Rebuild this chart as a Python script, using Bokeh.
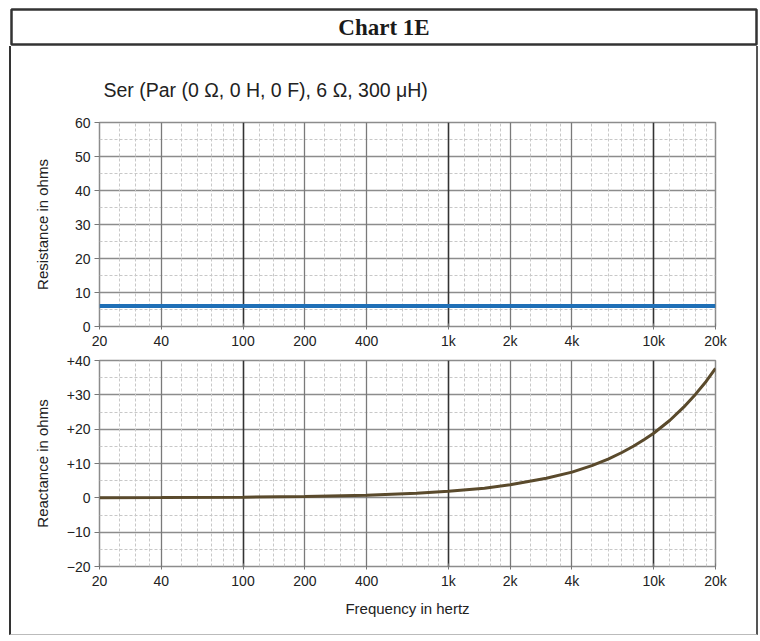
from bokeh.plotting import figure
from bokeh.models import Range1d, FixedTicker, Grid, CustomJSTickFormatter, Label
from bokeh.layouts import column
from bokeh.embed import file_html
from bokeh.resources import INLINE

# ---------------- data ----------------
header_text = "Chart 1E"
subtitle = "Ser (Par (0 \u03a9, 0 H, 0 F), 6 \u03a9, 300 \u03bcH)"

x_ticks = [20, 40, 100, 200, 400, 1000, 2000, 4000, 10000, 20000]
x_decades = [100, 1000, 10000]
x_octaves = [40, 200, 400, 2000, 4000]
x_minor = [25, 30, 35, 50, 60, 70, 80, 90, 120, 140, 160, 180, 250, 300, 350,
           500, 600, 700, 800, 900, 1200, 1400, 1600, 1800, 2500, 3000, 3500,
           5000, 6000, 7000, 8000, 9000, 12000, 14000, 16000, 18000]

r_ticks = [0, 10, 20, 30, 40, 50, 60]
r_minor = [5, 15, 25, 35, 45, 55]
x_ticks_b = [-20, -10, 0, 10, 20, 30, 40]
x_minor_b = [-15, -5, 5, 15, 25, 35]

freq_r = [20, 40, 100, 200, 400, 1000, 2000, 4000, 10000, 20000]
resistance = [6.0, 6.0, 6.0, 6.0, 6.0, 6.0, 6.0, 6.0, 6.0, 6.0]

freq_x = [20, 40, 100, 200, 400, 700, 1000, 1500, 2000, 3000, 4000, 5000, 6000,
          7000, 8000, 9000, 10000, 12000, 14000, 16000, 18000, 20000]
reactance = [0.04, 0.08, 0.19, 0.38, 0.75, 1.3, 1.9, 2.8, 3.8, 5.7, 7.5, 9.4, 11.3,
             13.2, 15.1, 17.0, 18.8, 22.6, 26.4, 30.2, 33.9, 37.7]

FONT = "Liberation Sans"
TXT = "#222222"

# ---------------- header ----------------
hdr = figure(width=749, height=39, x_range=Range1d(0, 1), y_range=Range1d(0, 1),
             toolbar_location=None, output_backend="svg",
             x_axis_location=None, y_axis_location=None,
             min_border_left=2, min_border_right=2, min_border_top=2, min_border_bottom=2)
hdr.grid.visible = False
hdr.outline_line_color = "#333333"
hdr.outline_line_width = 2.5
hdr.add_layout(Label(x=0.5, y=0.5, text=header_text, text_align="center",
                     text_baseline="middle", text_font="Liberation Serif",
                     text_font_style="bold", text_font_size="23px", text_color="#1a1a1a"))


def style_panel(p, yticks, yminor, ylabel, yformatter=None):
    p.outline_line_color = "#8c8c8c"
    p.outline_line_width = 1.5
    p.background_fill_color = "white"
    # x axis
    xt = FixedTicker(ticks=x_ticks, minor_ticks=[])
    p.xaxis.ticker = xt
    p.xaxis.formatter = CustomJSTickFormatter(
        code="return tick >= 1000 ? (tick/1000) + 'k' : String(tick);")
    p.xaxis.axis_line_color = None
    p.xaxis.major_tick_in = 3
    p.xaxis.major_tick_out = 3
    p.xaxis.major_tick_line_color = "#777777"
    p.xaxis.minor_tick_line_color = None
    p.xaxis.major_label_standoff = 3
    p.xaxis.major_label_text_font = FONT
    p.xaxis.major_label_text_font_size = "14px"
    p.xaxis.major_label_text_color = TXT
    # y axis
    yt = FixedTicker(ticks=yticks, minor_ticks=yminor)
    p.yaxis.ticker = yt
    if yformatter is not None:
        p.yaxis.formatter = yformatter
    p.yaxis.axis_line_color = None
    p.yaxis.major_tick_in = 0
    p.yaxis.major_tick_out = 5
    p.yaxis.major_tick_line_color = "#777777"
    p.yaxis.minor_tick_line_color = None
    p.yaxis.major_label_standoff = 4
    p.yaxis.major_label_text_font = FONT
    p.yaxis.major_label_text_font_size = "14px"
    p.yaxis.major_label_text_color = TXT
    p.yaxis.axis_label = ylabel
    p.yaxis.axis_label_text_font = FONT
    p.yaxis.axis_label_text_font_style = "normal"
    p.yaxis.axis_label_text_font_size = "15px"
    p.yaxis.axis_label_text_color = TXT
    # grids
    p.xgrid.visible = False
    p.ygrid.ticker = yt
    p.ygrid.grid_line_color = "#8c8c8c"
    p.ygrid.grid_line_width = 1.4
    p.ygrid.minor_grid_line_color = "#c8c8c8"
    p.ygrid.minor_grid_line_dash = "3 2"
    p.add_layout(Grid(dimension=0, ticker=FixedTicker(ticks=x_minor),
                      grid_line_color="#c8c8c8", grid_line_dash="3 2", grid_line_width=1))
    p.add_layout(Grid(dimension=0, ticker=FixedTicker(ticks=x_octaves),
                      grid_line_color="#7a7a7a", grid_line_width=1.3))
    p.add_layout(Grid(dimension=0, ticker=FixedTicker(ticks=x_decades),
                      grid_line_color="#333333", grid_line_width=1.6))


# ---------------- top panel: resistance ----------------
top = figure(width=745, height=306, x_axis_type="log",
             x_range=Range1d(20, 20000), y_range=Range1d(0, 60),
             toolbar_location=None, output_backend="svg",
             min_border_left=88, min_border_right=41, min_border_top=76, min_border_bottom=26,
             title=subtitle)
top.title.text_font = FONT
top.title.text_font_size = "19.5px"
top.title.text_font_style = "normal"
top.title.text_color = TXT
top.title.align = "left"
top.title.offset = 4
top.title.standoff = 43
style_panel(top, r_ticks, r_minor, "Resistance in ohms")
top.yaxis.axis_label_standoff = 21
top.line(freq_r, resistance, line_color="#1f6fb6", line_width=4)

# ---------------- bottom panel: reactance ----------------
yfmt = CustomJSTickFormatter(
    code="if (tick > 0) { return '+' + tick; } if (tick < 0) { return '\u2212' + (-tick); } return '0';")
bot = figure(width=745, height=282, x_axis_type="log",
             x_range=Range1d(20, 20000), y_range=Range1d(-20, 40),
             toolbar_location=None, output_backend="svg",
             min_border_left=88, min_border_right=41, min_border_top=8, min_border_bottom=68)
style_panel(bot, x_ticks_b, x_minor_b, "Reactance in ohms", yfmt)
bot.yaxis.axis_label_standoff = 13
bot.xaxis.axis_label = "Frequency in hertz"
bot.xaxis.axis_label_text_font = FONT
bot.xaxis.axis_label_text_font_style = "normal"
bot.xaxis.axis_label_text_font_size = "15px"
bot.xaxis.axis_label_text_color = TXT
bot.xaxis.axis_label_standoff = 8
bot.line(freq_x, reactance, line_color="#5a4a2c", line_width=3)

chart = column(top, bot, spacing=0,
               styles={"border-left": "2px solid #333333",
                       "border-right": "2px solid #555555",
                       "border-bottom": "1px solid #bbbbbb"})
root = column(hdr, chart, spacing=0, margin=(7, 0, 0, 9))

with open("out.html", "w", encoding="utf-8") as f:
    f.write(file_html(root, INLINE))
